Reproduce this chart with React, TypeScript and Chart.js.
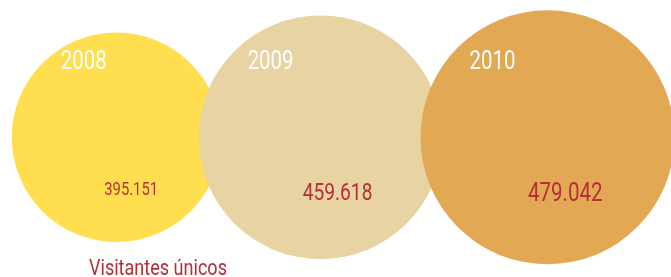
import React, { useEffect, useRef } from "react";
import { Chart, registerables } from "chart.js";

Chart.register(...registerables);

// ---- data ----
const years: string[] = ["2008", "2009", "2010"];
const visitors: number[] = [395151, 459618, 479042];
const valueLabels: string[] = ["395.151", "459.618", "479.042"];
const xCenters: number[] = [116.5, 320.5, 547.5];
const yCenters: number[] = [137.3, 137.3, 137.3];
const bubbleColors: string[] = ["#FFDF50", "#E8D3A2", "#E2A853"];
const caption = "Visitantes únicos";

const WIDTH = 671;
const HEIGHT = 277;
const MAX_RADIUS = 127; // pixel radius of the largest bubble
const TEXT_RED = "#B52F39";
const FONT = "Roboto, 'DejaVu Sans Condensed', sans-serif";

const maxVisitors = Math.max(...visitors);

function drawCondensed(
  ctx: CanvasRenderingContext2D,
  text: string,
  x: number,
  y: number,
  size: number,
  align: CanvasTextAlign,
  color: string,
  condense: number
) {
  ctx.save();
  ctx.translate(x, y);
  ctx.scale(condense, 1);
  ctx.font = `${size.toFixed(1)}px ${FONT}`;
  ctx.fillStyle = color;
  ctx.textAlign = align;
  ctx.textBaseline = "alphabetic";
  ctx.fillText(text, 0, 0);
  ctx.restore();
}

const labelPlugin = {
  id: "bubbleLabels",
  afterDatasetsDraw(chart: any) {
    const ctx = chart.ctx as CanvasRenderingContext2D;
    const meta = chart.getDatasetMeta(0);
    meta.data.forEach((el: any, i: number) => {
      const r = el.options.radius as number;
      const cx = el.x as number;
      const cy = el.y as number;
      drawCondensed(ctx, years[i], cx - r + 49, cy - 68, 25.5, "left", "#FFFFFF", 0.8);
      const size = 0.318 * r - 15;
      drawCondensed(ctx, valueLabels[i], cx + 0.14 * r, cy + 0.273 * r + 29.4, size, "center", TEXT_RED, 0.81);
    });
    drawCondensed(ctx, caption, chart.chartArea.left + 89, chart.chartArea.top + 275, 21.5, "left", TEXT_RED, 0.84);
  },
};

export default function App() {
  const canvasRef = useRef<HTMLCanvasElement | null>(null);

  useEffect(() => {
    if (!canvasRef.current) return;
    const chart = new Chart(canvasRef.current, {
      type: "bubble",
      data: {
        datasets: [
          {
            label: caption,
            data: visitors.map((v, i) => ({
              x: xCenters[i],
              y: yCenters[i],
              r: (v / maxVisitors) * MAX_RADIUS,
            })),
            backgroundColor: bubbleColors,
            hoverBackgroundColor: bubbleColors,
            borderWidth: 0,
            hoverBorderWidth: 0,
            hoverRadius: 0,
            clip: false as any,
          },
        ],
      },
      options: {
        responsive: false,
        animation: false,
        layout: { padding: 0, autoPadding: false },
        events: [],
        plugins: {
          legend: { display: false },
          tooltip: { enabled: false },
          title: { display: false },
        },
        scales: {
          x: { type: "linear", min: 0, max: WIDTH, display: false },
          y: { type: "linear", min: 0, max: HEIGHT, reverse: true, display: false },
        },
      },
      plugins: [labelPlugin],
    });
    return () => chart.destroy();
  }, []);

  return (
    <div style={{ position: "absolute", left: 0, top: 0, width: WIDTH, height: HEIGHT, background: "#FFFFFF" }}>
      <canvas ref={canvasRef} width={WIDTH} height={HEIGHT} style={{ display: "block" }} />
    </div>
  );
}
